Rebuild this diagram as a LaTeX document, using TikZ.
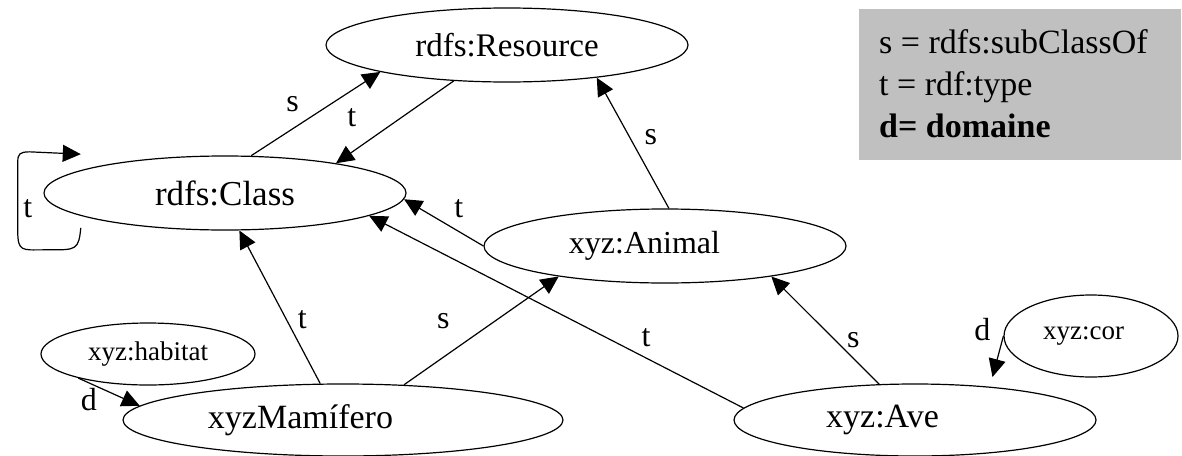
\documentclass[tikz,border=0pt]{standalone}
\usepackage{fontspec}
\setmainfont{Liberation Serif}
\usetikzlibrary{arrows.meta, shapes.geometric}

\definecolor{legendgray}{RGB}{192,192,192}

\begin{document}
\begin{tikzpicture}[x=1pt, y=-1pt,
    classnode/.style={draw, ellipse, line width=1.2pt, inner sep=0pt,
        minimum width=362pt, minimum height=74pt, font=\fontsize{34}{40}\selectfont},
    smallnode/.style={draw, ellipse, line width=1.2pt, inner sep=0pt,
        minimum width=214pt, minimum height=62pt, font=\fontsize{27}{32}\selectfont},
    textleft/.style={execute at begin node={\kern-#1}},
    arc/.style={-{Triangle[length=18pt,width=17pt]}, line width=1.2pt},
    lbl/.style={font=\fontsize{32}{36}\selectfont, inner sep=1pt},
    keytext/.style={anchor=base west, inner sep=0pt, font=\fontsize{34}{40}\selectfont}]
    \useasboundingbox (0,0) rectangle (1182,455);

    % Classes
    \node[classnode, font=\fontsize{33}{40}\selectfont] (res) at (507,45) {rdfs:Resource};
    \node[classnode, font=\fontsize{35}{40}\selectfont] (cls) at (225,193) {rdfs:Class};
    \node[classnode, font=\fontsize{32}{40}\selectfont, textleft=41pt] (ani) at (665,246) {xyz:Animal};
    \node[classnode, minimum width=440pt, minimum height=72pt, textleft=85pt] (mam) at (343,420) {xyzMamífero};
    \node[classnode, minimum height=72pt, textleft=65pt] (ave) at (915,420) {xyz:Ave};

    % Properties
    \node[smallnode] (hab) at (148,354) {xyz:habitat};
    \node[smallnode, minimum width=174pt, minimum height=82pt, textleft=15pt] (cor) at (1091,336) {xyz:cor};

    % Legend
    \fill[legendgray] (859,9) rectangle (1181,160);
    \node[keytext] (keys) at (879,53) {s = rdfs:subClassOf};
    \node[keytext] (keyt) at (879,95) {t = rdf:type};
    \node[keytext] (keyd) at (879,137) {\textbf{d= domaine}};

    % subClassOf / type links
    \draw[arc] (cls.55) -- (res.192) node[lbl, midway, xshift=-23pt, yshift=10pt] {s};
    \draw[arc] (res.214) -- (cls.15) node[lbl, midway, xshift=-43pt, yshift=4pt] {t};
    \draw[arc] ([yshift=-12pt]cls.189) .. controls +(-2,22) and +(25,0) .. ++(-30,22)
        -- ++(-8,0) .. controls +(-20,0) and +(0,20) .. ++(-25,-18)
        -- ++(0,-70) node[lbl, midway, xshift=10pt, yshift=-12pt] {t}
        .. controls +(0,-8) and +(-10,0) .. ++(12,-10)
        -- ([yshift=16pt]cls.171);
    \draw[arc] (ani.180) -- (cls.358) node[lbl, midway, xshift=15pt, yshift=14pt] {t};
    \draw[arc] (ave.176) -- (cls.351) node[lbl, pos=0.26, yshift=20pt] {t};
    \draw[arc] (mam.122) -- (cls.291) node[lbl, pos=0.42, xshift=16pt] {t};
    \draw[arc] (mam.30) -- (ani.196) node[lbl, midway, xshift=-38pt, yshift=10pt] {s};
    \draw[arc] (ani.84) -- (res.340) node[lbl, midway, xshift=18pt, yshift=6pt] {s};
    \draw[arc] (ave.135) -- (ani.344) node[lbl, midway, xshift=28pt, yshift=-10pt] {s};

    % domain links
    \draw[arc, shorten >=10pt] (cor.west) -- (ave.24) node[lbl, pos=0, xshift=-21pt, yshift=6pt] {d};
    \draw[arc] (hab.199) -- (mam.176.5) node[lbl, midway, xshift=-20pt, yshift=-8pt] {d};
\end{tikzpicture}
\end{document}
